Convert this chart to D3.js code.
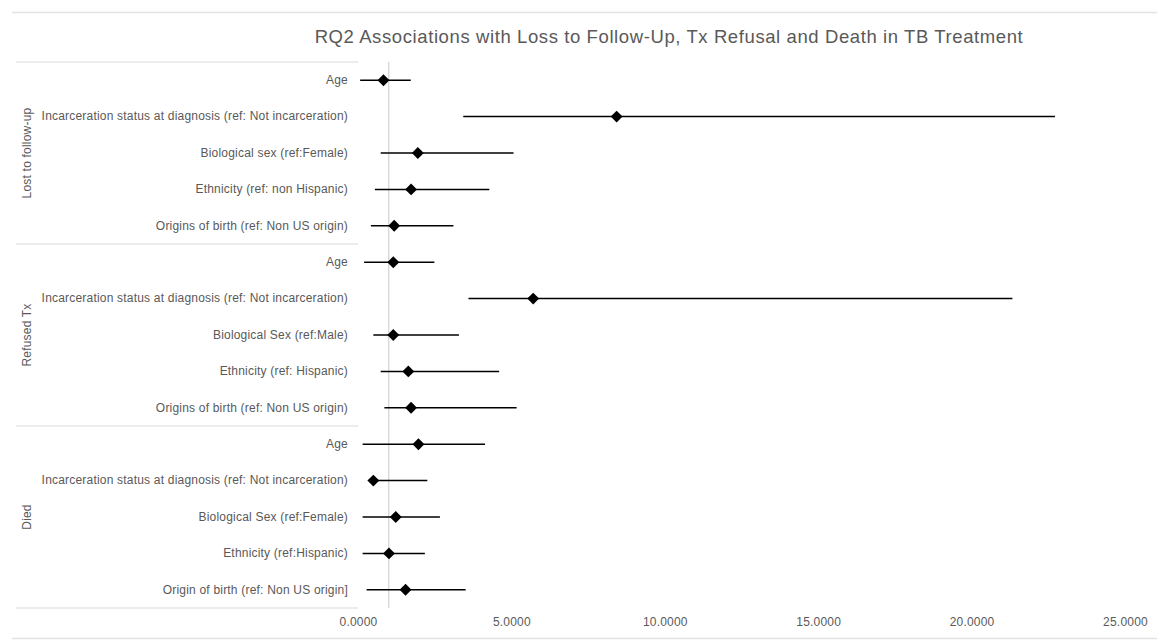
<!DOCTYPE html>
<html>
<head>
<meta charset="utf-8">
<script src="https://cdn.jsdelivr.net/npm/d3@7"></script>
<style>
  body { margin: 0; background: #fff; }
  svg text { font-family: "Liberation Sans", Arial, sans-serif; }
</style>
</head>
<body>
<div id="chart"></div>
<script>
// outcome groups, five predictors each
var groups = ['Lost to follow-up', 'Refused Tx', 'Died'];
var labels = [
  'Age',
  'Incarceration status at diagnosis (ref: Not incarceration)',
  'Biological sex (ref:Female)',
  'Ethnicity (ref: non Hispanic)',
  'Origins of birth (ref: Non US origin)',
  'Age',
  'Incarceration status at diagnosis (ref: Not incarceration)',
  'Biological Sex (ref:Male)',
  'Ethnicity (ref: Hispanic)',
  'Origins of birth (ref: Non US origin)',
  'Age',
  'Incarceration status at diagnosis (ref: Not incarceration)',
  'Biological Sex (ref:Female)',
  'Ethnicity (ref:Hispanic)',
  'Origin of birth (ref: Non US origin]'
];
var estimate = [0.83, 8.43, 1.95, 1.73, 1.18, 1.15, 5.71, 1.15, 1.64, 1.73, 1.97, 0.50, 1.23, 1.01, 1.55];
var lower    = [0.07, 3.43, 0.74, 0.55, 0.42, 0.20, 3.60, 0.50, 0.74, 0.86, 0.15, 0.42, 0.15, 0.15, 0.28];
var upper    = [1.72, 22.72, 5.07, 4.28, 3.11, 2.49, 21.33, 3.29, 4.60, 5.17, 4.14, 2.26, 2.67, 2.18, 3.51];
var xTicks = [0, 5, 10, 15, 20, 25];
var refValue = 1;

var W = 1157, H = 640;
var margin = { top: 62, right: 32, bottom: 32, left: 358 };
var grey = '#595959', lineGrey = '#d9d9d9';
var fontFam = '"Liberation Sans", Arial, sans-serif';

var svg = d3.select('#chart').append('svg')
  .attr('width', W).attr('height', H);

var rows = d3.range(labels.length);
var xS = d3.scaleLinear().domain([0, 25]).range([margin.left, W - margin.right]);
var yS = d3.scaleBand().domain(rows).range([margin.top, H - margin.bottom]);

// outer frame lines
svg.append('line').attr('x1', 12).attr('x2', W).attr('y1', 12.5).attr('y2', 12.5)
  .attr('stroke', '#e3e3e3').attr('stroke-width', 1.5);
svg.append('line').attr('x1', 12).attr('x2', W).attr('y1', 638.5).attr('y2', 638.5)
  .attr('stroke', '#e3e3e3').attr('stroke-width', 1.5);

// title
svg.append('text')
  .attr('x', 669).attr('y', 43)
  .attr('text-anchor', 'middle')
  .style('font-size', '18.5px')
  .style('letter-spacing', '0.6px')
  .style('fill', grey)
  .text('RQ2 Associations with Loss to Follow-Up, Tx Refusal and Death in TB Treatment');

// group separators
var seps = [0, 5, 10, 15];
var sepY = function(d) { return d < rows.length ? yS(d) : yS(rows.length - 1) + yS.bandwidth(); };
svg.selectAll('.sep').data(seps).enter().append('line')
  .attr('class', 'sep')
  .attr('x1', 16).attr('x2', margin.left)
  .attr('y1', sepY).attr('y2', sepY)
  .attr('stroke', lineGrey).attr('stroke-width', 1);

// group labels
svg.selectAll('.grp').data(groups).enter().append('text')
  .attr('class', 'grp')
  .attr('transform', function(d, i) {
    var yMid = yS(i * 5) + yS.bandwidth() * 2.5;
    return 'translate(31,' + yMid + ') rotate(-90)';
  })
  .attr('text-anchor', 'middle')
  .style('font-size', '12px')
  .style('letter-spacing', '0.2px')
  .style('fill', grey)
  .text(function(d) { return d; });

// reference line at 1
svg.append('line')
  .attr('x1', xS(refValue)).attr('x2', xS(refValue))
  .attr('y1', margin.top).attr('y2', H - margin.bottom)
  .attr('stroke', lineGrey).attr('stroke-width', 1.5);

// y axis labels
var yAxis = svg.append('g')
  .attr('transform', 'translate(' + margin.left + ',0)')
  .call(d3.axisLeft(yS).tickSize(0).tickPadding(10)
    .tickFormat(function(i) { return labels[i]; }));
yAxis.select('.domain').remove();
yAxis.selectAll('text').style('font-size', '12px').style('fill', grey)
  .style('letter-spacing', '0.2px')
  .style('font-family', fontFam);

// x axis
var xAxis = svg.append('g')
  .attr('transform', 'translate(0,' + (H - margin.bottom) + ')')
  .call(d3.axisBottom(xS).tickValues(xTicks).tickSize(0).tickPadding(9)
    .tickFormat(d3.format('.4f')));
xAxis.select('.domain').remove();
xAxis.selectAll('text').style('font-size', '12px').style('fill', grey)
  .style('letter-spacing', '0.2px')
  .style('font-family', fontFam);

// whiskers
var cy = function(i) { return yS(i) + yS.bandwidth() / 2; };
svg.selectAll('.ci').data(rows).enter().append('line')
  .attr('class', 'ci')
  .attr('x1', function(i) { return xS(lower[i]); })
  .attr('x2', function(i) { return xS(upper[i]); })
  .attr('y1', cy).attr('y2', cy)
  .attr('stroke', '#000').attr('stroke-width', 1.5);

// estimates
svg.selectAll('.pt').data(rows).enter().append('path')
  .attr('class', 'pt')
  .attr('d', d3.symbol().type(d3.symbolDiamond2).size(90))
  .attr('transform', function(i) { return 'translate(' + xS(estimate[i]) + ',' + cy(i) + ')'; })
  .attr('fill', '#000');
</script>
</body>
</html>
